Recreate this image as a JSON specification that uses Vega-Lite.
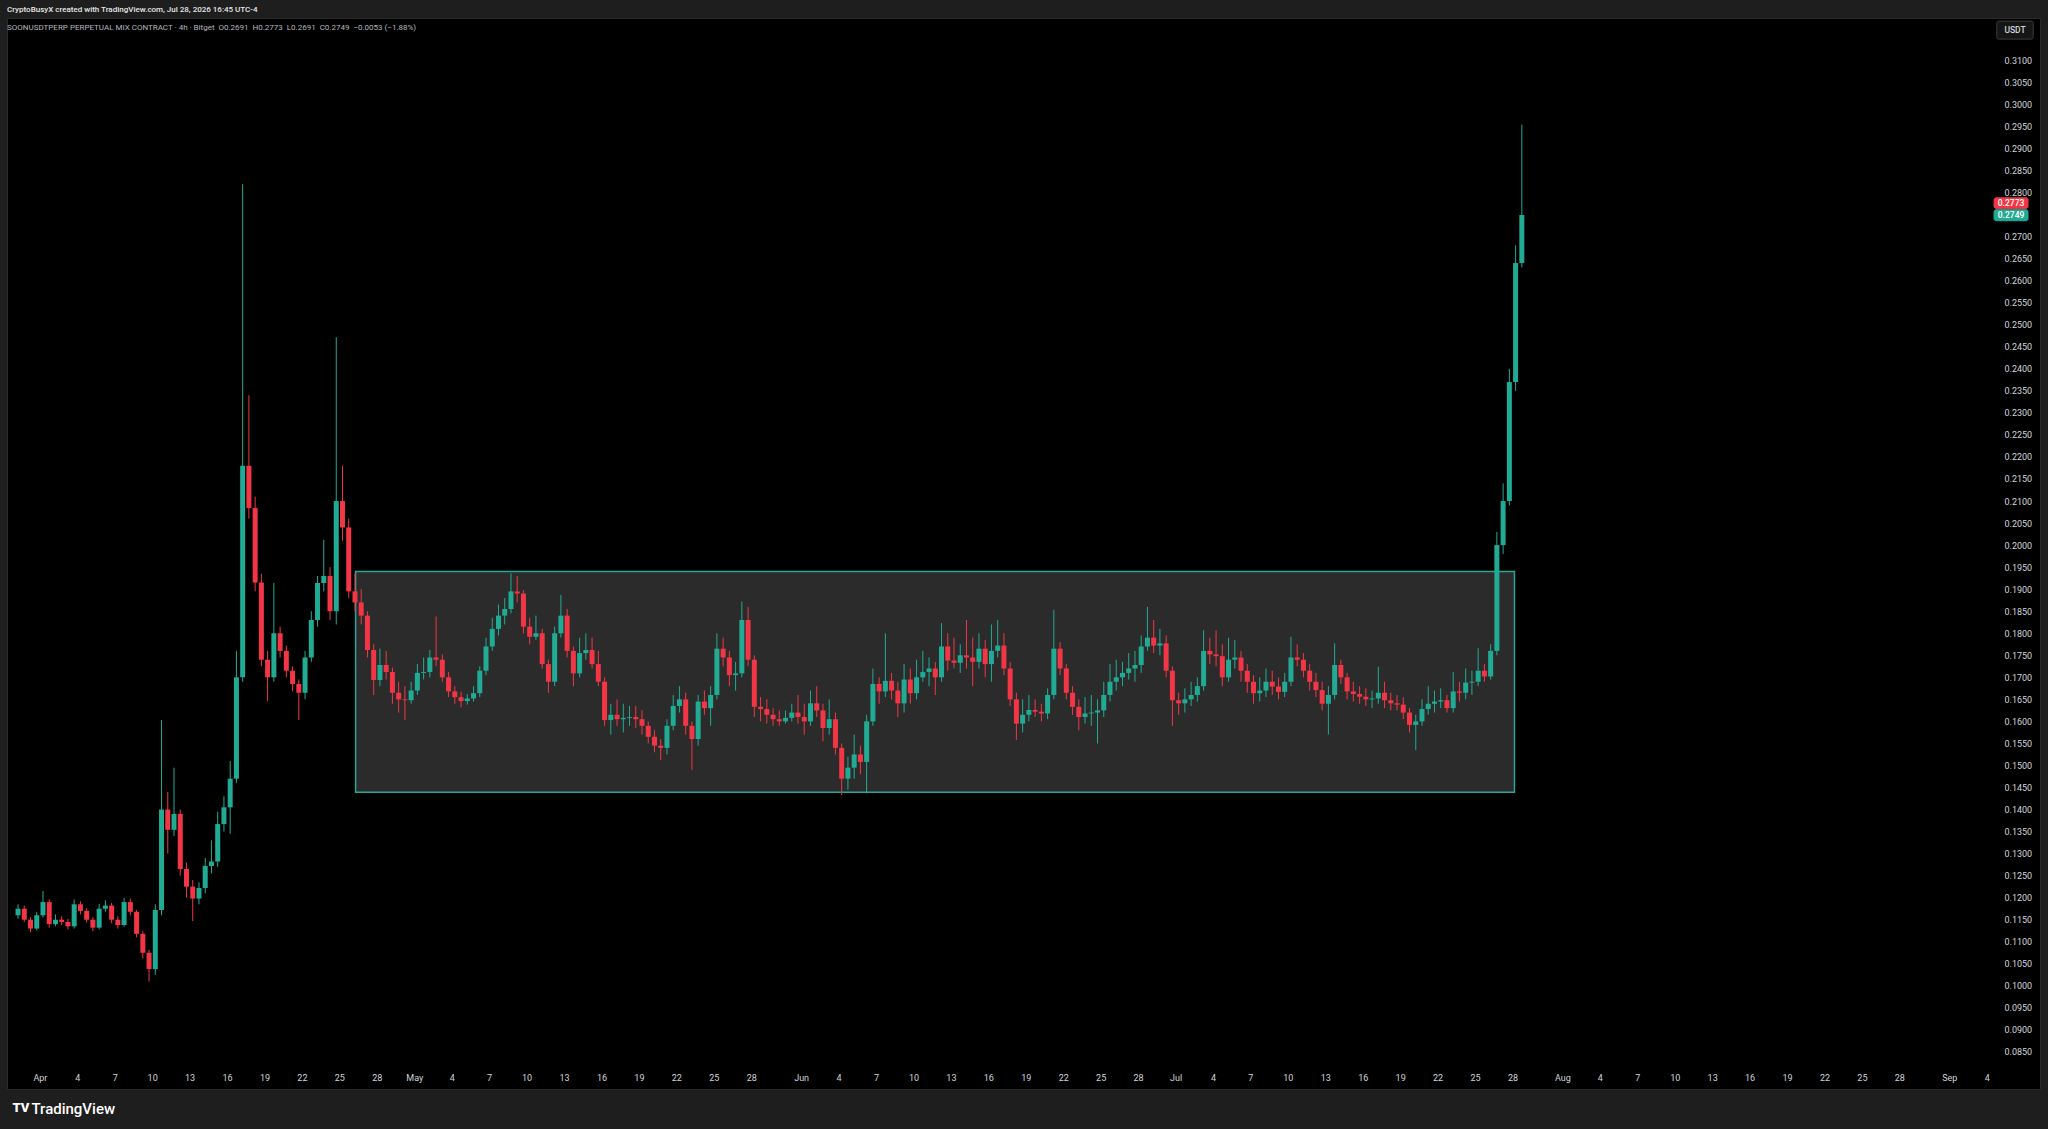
{
  "$schema": "https://vega.github.io/schema/vega-lite/v6.json",
  "width": 2033,
  "height": 1071,
  "autosize": {"type": "none"},
  "padding": {"left": 7, "top": 18, "right": 8, "bottom": 40},
  "background": "#1e1e1e",
  "view": {"fill": "#000000", "stroke": "#2a2a2a"},
  "config": {
    "font": "Roboto",
    "axis": {"grid": false, "domain": false, "ticks": false, "tickSize": 0, "labelFont": "Roboto", "labelFontSize": 9, "labelColor": "#d1d4dc", "labelOverlap": false, "zindex": 1}
  },
  "title": {
    "text": "CryptoBusyX created with TradingView.com, Jul 28, 2026 16:45 UTC-4",
    "subtitle": "\u00a0\u00a0\u00a0SOONUSDTPERP PERPETUAL MIX CONTRACT · 4h · Bitget\u00a0\u00a0O0.2691\u00a0\u00a0H0.2773\u00a0\u00a0L0.2691\u00a0\u00a0C0.2749\u00a0\u00a0−0.0053 (−1.88%)",
    "anchor": "start",
    "frame": "group",
    "offset": -14,
    "font": "Roboto",
    "fontSize": 8,
    "fontWeight": 500,
    "color": "#e6e6e6",
    "subtitleFont": "Roboto",
    "subtitleFontSize": 8,
    "subtitleColor": "#b2b5be",
    "subtitlePadding": 10,
    "zindex": 1
  },
  "datasets": {
    "range": [{"t0": "2026-04-26T07:12Z", "t1": "2026-07-28T03:50Z", "p0": 0.1439, "p1": 0.1940}],
    "badges": [
      {"t0": "2026-09-04T19:25Z", "t1": "2026-09-07T17:30Z", "tm": "2026-09-06T06:30Z", "p0": 0.3148, "p1": 0.3189, "pm": 0.31685, "label": "USDT", "fill": "#161616", "stroke": "#3a3a3a", "tc": "#d1d4dc"},
      {"t0": "2026-09-04T14:10Z", "t1": "2026-09-07T07:25Z", "tm": "2026-09-05T22:50Z", "p0": 0.2764, "p1": 0.2788, "pm": 0.2776, "label": "0.2773", "fill": "#f23645", "stroke": "#f23645", "tc": "#ffffff"},
      {"t0": "2026-09-04T14:10Z", "t1": "2026-09-07T07:25Z", "tm": "2026-09-05T22:50Z", "p0": 0.2736, "p1": 0.2761, "pm": 0.27485, "label": "0.2749", "fill": "#22ab94", "stroke": "#22ab94", "tc": "#ffffff"}
    ],
    "logo": [{"t": "2026-03-30T11:40Z", "p": 0.0723, "label": "TV"}],
    "candles": [
      {"t": "2026-03-30T06:00Z", "o": 0.1160, "h": 0.1185, "l": 0.1152, "c": 0.1175},
      {"t": "2026-03-30T18:00Z", "o": 0.1175, "h": 0.1182, "l": 0.1145, "c": 0.1150},
      {"t": "2026-03-31T06:00Z", "o": 0.1150, "h": 0.1156, "l": 0.1122, "c": 0.1130},
      {"t": "2026-03-31T18:00Z", "o": 0.1130, "h": 0.1168, "l": 0.1126, "c": 0.1160},
      {"t": "2026-04-01T06:00Z", "o": 0.1160, "h": 0.1215, "l": 0.1155, "c": 0.1190},
      {"t": "2026-04-01T18:00Z", "o": 0.1190, "h": 0.1196, "l": 0.1132, "c": 0.1140},
      {"t": "2026-04-02T06:00Z", "o": 0.1140, "h": 0.1162, "l": 0.1135, "c": 0.1150},
      {"t": "2026-04-02T18:00Z", "o": 0.1150, "h": 0.1158, "l": 0.1138, "c": 0.1145},
      {"t": "2026-04-03T06:00Z", "o": 0.1145, "h": 0.1152, "l": 0.1128, "c": 0.1135},
      {"t": "2026-04-03T18:00Z", "o": 0.1135, "h": 0.1196, "l": 0.1130, "c": 0.1185},
      {"t": "2026-04-04T06:00Z", "o": 0.1185, "h": 0.1192, "l": 0.1162, "c": 0.1170},
      {"t": "2026-04-04T18:00Z", "o": 0.1170, "h": 0.1176, "l": 0.1144, "c": 0.1150},
      {"t": "2026-04-05T06:00Z", "o": 0.1150, "h": 0.1156, "l": 0.1124, "c": 0.1132},
      {"t": "2026-04-05T18:00Z", "o": 0.1132, "h": 0.1186, "l": 0.1128, "c": 0.1175},
      {"t": "2026-04-06T06:00Z", "o": 0.1175, "h": 0.1194, "l": 0.1168, "c": 0.1182},
      {"t": "2026-04-06T18:00Z", "o": 0.1182, "h": 0.1188, "l": 0.1142, "c": 0.1150},
      {"t": "2026-04-07T06:00Z", "o": 0.1150, "h": 0.1158, "l": 0.1130, "c": 0.1138},
      {"t": "2026-04-07T18:00Z", "o": 0.1138, "h": 0.1200, "l": 0.1134, "c": 0.1190},
      {"t": "2026-04-08T06:00Z", "o": 0.1190, "h": 0.1198, "l": 0.1160, "c": 0.1168},
      {"t": "2026-04-08T18:00Z", "o": 0.1168, "h": 0.1172, "l": 0.1110, "c": 0.1118},
      {"t": "2026-04-09T06:00Z", "o": 0.1118, "h": 0.1124, "l": 0.1062, "c": 0.1075},
      {"t": "2026-04-09T18:00Z", "o": 0.1075, "h": 0.1082, "l": 0.1010, "c": 0.1038},
      {"t": "2026-04-10T06:00Z", "o": 0.1038, "h": 0.1185, "l": 0.1025, "c": 0.1172},
      {"t": "2026-04-10T18:00Z", "o": 0.1172, "h": 0.1603, "l": 0.1160, "c": 0.1400},
      {"t": "2026-04-11T06:00Z", "o": 0.1400, "h": 0.1440, "l": 0.1300, "c": 0.1354},
      {"t": "2026-04-11T18:00Z", "o": 0.1354, "h": 0.1495, "l": 0.1340, "c": 0.1390},
      {"t": "2026-04-12T06:00Z", "o": 0.1390, "h": 0.1400, "l": 0.1250, "c": 0.1265},
      {"t": "2026-04-12T18:00Z", "o": 0.1265, "h": 0.1280, "l": 0.1200, "c": 0.1225},
      {"t": "2026-04-13T06:00Z", "o": 0.1225, "h": 0.1240, "l": 0.1147, "c": 0.1198},
      {"t": "2026-04-13T18:00Z", "o": 0.1198, "h": 0.1235, "l": 0.1185, "c": 0.1222},
      {"t": "2026-04-14T06:00Z", "o": 0.1222, "h": 0.1290, "l": 0.1210, "c": 0.1272},
      {"t": "2026-04-14T18:00Z", "o": 0.1272, "h": 0.1330, "l": 0.1255, "c": 0.1282},
      {"t": "2026-04-15T06:00Z", "o": 0.1282, "h": 0.1395, "l": 0.1270, "c": 0.1367},
      {"t": "2026-04-15T18:00Z", "o": 0.1367, "h": 0.1430, "l": 0.1350, "c": 0.1405},
      {"t": "2026-04-16T06:00Z", "o": 0.1405, "h": 0.1510, "l": 0.1345, "c": 0.1470},
      {"t": "2026-04-16T18:00Z", "o": 0.1470, "h": 0.1760, "l": 0.1460, "c": 0.1700},
      {"t": "2026-04-17T06:00Z", "o": 0.1700, "h": 0.2819, "l": 0.1690, "c": 0.2180},
      {"t": "2026-04-17T18:00Z", "o": 0.2180, "h": 0.2340, "l": 0.2060, "c": 0.2084},
      {"t": "2026-04-18T06:00Z", "o": 0.2084, "h": 0.2110, "l": 0.1895, "c": 0.1915},
      {"t": "2026-04-18T18:00Z", "o": 0.1915, "h": 0.1935, "l": 0.1725, "c": 0.1740},
      {"t": "2026-04-19T06:00Z", "o": 0.1740, "h": 0.1760, "l": 0.1646, "c": 0.1700},
      {"t": "2026-04-19T18:00Z", "o": 0.1700, "h": 0.1914, "l": 0.1690, "c": 0.1800},
      {"t": "2026-04-20T06:00Z", "o": 0.1800, "h": 0.1815, "l": 0.1745, "c": 0.1760},
      {"t": "2026-04-20T18:00Z", "o": 0.1760, "h": 0.1772, "l": 0.1700, "c": 0.1715},
      {"t": "2026-04-21T06:00Z", "o": 0.1715, "h": 0.1725, "l": 0.1668, "c": 0.1685},
      {"t": "2026-04-21T18:00Z", "o": 0.1685, "h": 0.1695, "l": 0.1603, "c": 0.1665},
      {"t": "2026-04-22T06:00Z", "o": 0.1665, "h": 0.1760, "l": 0.1650, "c": 0.1745},
      {"t": "2026-04-22T18:00Z", "o": 0.1745, "h": 0.1850, "l": 0.1735, "c": 0.1830},
      {"t": "2026-04-23T06:00Z", "o": 0.1830, "h": 0.1930, "l": 0.1815, "c": 0.1914},
      {"t": "2026-04-23T18:00Z", "o": 0.1914, "h": 0.2012, "l": 0.1895, "c": 0.1930},
      {"t": "2026-04-24T06:00Z", "o": 0.1930, "h": 0.1950, "l": 0.1830, "c": 0.1850},
      {"t": "2026-04-24T18:00Z", "o": 0.1850, "h": 0.2472, "l": 0.1820, "c": 0.2100},
      {"t": "2026-04-25T06:00Z", "o": 0.2100, "h": 0.2180, "l": 0.2010, "c": 0.2040},
      {"t": "2026-04-25T18:00Z", "o": 0.2040, "h": 0.2060, "l": 0.1880, "c": 0.1895},
      {"t": "2026-04-26T06:00Z", "o": 0.1895, "h": 0.1935, "l": 0.1850, "c": 0.1870},
      {"t": "2026-04-26T18:00Z", "o": 0.1870, "h": 0.1900, "l": 0.1820, "c": 0.1840},
      {"t": "2026-04-27T06:00Z", "o": 0.1840, "h": 0.1850, "l": 0.1745, "c": 0.1762},
      {"t": "2026-04-27T18:00Z", "o": 0.1762, "h": 0.1775, "l": 0.1660, "c": 0.1694},
      {"t": "2026-04-28T06:00Z", "o": 0.1694, "h": 0.1765, "l": 0.1680, "c": 0.1728},
      {"t": "2026-04-28T18:00Z", "o": 0.1728, "h": 0.1760, "l": 0.1695, "c": 0.1712},
      {"t": "2026-04-29T06:00Z", "o": 0.1712, "h": 0.1722, "l": 0.1640, "c": 0.1665},
      {"t": "2026-04-29T18:00Z", "o": 0.1665, "h": 0.1690, "l": 0.1620, "c": 0.1650},
      {"t": "2026-04-30T06:00Z", "o": 0.1650, "h": 0.1680, "l": 0.1603, "c": 0.1648},
      {"t": "2026-04-30T18:00Z", "o": 0.1648, "h": 0.1690, "l": 0.1640, "c": 0.1670},
      {"t": "2026-05-01T06:00Z", "o": 0.1670, "h": 0.1730, "l": 0.1660, "c": 0.1710},
      {"t": "2026-05-01T18:00Z", "o": 0.1710, "h": 0.1745, "l": 0.1695, "c": 0.1712},
      {"t": "2026-05-02T06:00Z", "o": 0.1712, "h": 0.1762, "l": 0.1700, "c": 0.1745},
      {"t": "2026-05-02T18:00Z", "o": 0.1745, "h": 0.1838, "l": 0.1725, "c": 0.1740},
      {"t": "2026-05-03T06:00Z", "o": 0.1740, "h": 0.1752, "l": 0.1690, "c": 0.1700},
      {"t": "2026-05-03T18:00Z", "o": 0.1700, "h": 0.1712, "l": 0.1655, "c": 0.1668},
      {"t": "2026-05-04T06:00Z", "o": 0.1668, "h": 0.1680, "l": 0.1640, "c": 0.1655},
      {"t": "2026-05-04T18:00Z", "o": 0.1655, "h": 0.1668, "l": 0.1632, "c": 0.1646},
      {"t": "2026-05-05T06:00Z", "o": 0.1646, "h": 0.1662, "l": 0.1638, "c": 0.1652},
      {"t": "2026-05-05T18:00Z", "o": 0.1652, "h": 0.1680, "l": 0.1645, "c": 0.1664},
      {"t": "2026-05-06T06:00Z", "o": 0.1664, "h": 0.1725, "l": 0.1655, "c": 0.1715},
      {"t": "2026-05-06T18:00Z", "o": 0.1715, "h": 0.1790, "l": 0.1705, "c": 0.1770},
      {"t": "2026-05-07T06:00Z", "o": 0.1770, "h": 0.1835, "l": 0.1760, "c": 0.1810},
      {"t": "2026-05-07T18:00Z", "o": 0.1810, "h": 0.1865, "l": 0.1795, "c": 0.1840},
      {"t": "2026-05-08T06:00Z", "o": 0.1840, "h": 0.1880, "l": 0.1820, "c": 0.1855},
      {"t": "2026-05-08T18:00Z", "o": 0.1855, "h": 0.1936, "l": 0.1845, "c": 0.1895},
      {"t": "2026-05-09T06:00Z", "o": 0.1895, "h": 0.1930, "l": 0.1870, "c": 0.1890},
      {"t": "2026-05-09T18:00Z", "o": 0.1890, "h": 0.1898, "l": 0.1800, "c": 0.1815},
      {"t": "2026-05-10T06:00Z", "o": 0.1815, "h": 0.1835, "l": 0.1775, "c": 0.1792},
      {"t": "2026-05-10T18:00Z", "o": 0.1792, "h": 0.1840, "l": 0.1785, "c": 0.1800},
      {"t": "2026-05-11T06:00Z", "o": 0.1800, "h": 0.1810, "l": 0.1720, "c": 0.1730},
      {"t": "2026-05-11T18:00Z", "o": 0.1730, "h": 0.1740, "l": 0.1665, "c": 0.1690},
      {"t": "2026-05-12T06:00Z", "o": 0.1690, "h": 0.1815, "l": 0.1680, "c": 0.1800},
      {"t": "2026-05-12T18:00Z", "o": 0.1800, "h": 0.1887, "l": 0.1790, "c": 0.1840},
      {"t": "2026-05-13T06:00Z", "o": 0.1840, "h": 0.1855, "l": 0.1745, "c": 0.1760},
      {"t": "2026-05-13T18:00Z", "o": 0.1760, "h": 0.1770, "l": 0.1680, "c": 0.1709},
      {"t": "2026-05-14T06:00Z", "o": 0.1709, "h": 0.1790, "l": 0.1700, "c": 0.1755},
      {"t": "2026-05-14T18:00Z", "o": 0.1755, "h": 0.1800, "l": 0.1740, "c": 0.1762},
      {"t": "2026-05-15T06:00Z", "o": 0.1762, "h": 0.1790, "l": 0.1720, "c": 0.1730},
      {"t": "2026-05-15T18:00Z", "o": 0.1730, "h": 0.1760, "l": 0.1680, "c": 0.1690},
      {"t": "2026-05-16T06:00Z", "o": 0.1690, "h": 0.1700, "l": 0.1590, "c": 0.1603},
      {"t": "2026-05-16T18:00Z", "o": 0.1603, "h": 0.1640, "l": 0.1570, "c": 0.1615},
      {"t": "2026-05-17T06:00Z", "o": 0.1615, "h": 0.1650, "l": 0.1590, "c": 0.1605},
      {"t": "2026-05-17T18:00Z", "o": 0.1605, "h": 0.1640, "l": 0.1575, "c": 0.1608},
      {"t": "2026-05-18T06:00Z", "o": 0.1608, "h": 0.1635, "l": 0.1590, "c": 0.1610},
      {"t": "2026-05-18T18:00Z", "o": 0.1610, "h": 0.1635, "l": 0.1585, "c": 0.1605},
      {"t": "2026-05-19T06:00Z", "o": 0.1605, "h": 0.1625, "l": 0.1570, "c": 0.1590},
      {"t": "2026-05-19T18:00Z", "o": 0.1590, "h": 0.1600, "l": 0.1550, "c": 0.1565},
      {"t": "2026-05-20T06:00Z", "o": 0.1565, "h": 0.1580, "l": 0.1530, "c": 0.1545},
      {"t": "2026-05-20T18:00Z", "o": 0.1545, "h": 0.1560, "l": 0.1512, "c": 0.1540},
      {"t": "2026-05-21T06:00Z", "o": 0.1540, "h": 0.1605, "l": 0.1525, "c": 0.1590},
      {"t": "2026-05-21T18:00Z", "o": 0.1590, "h": 0.1660, "l": 0.1580, "c": 0.1635},
      {"t": "2026-05-22T06:00Z", "o": 0.1635, "h": 0.1680, "l": 0.1620, "c": 0.1650},
      {"t": "2026-05-22T18:00Z", "o": 0.1650, "h": 0.1665, "l": 0.1570, "c": 0.1590},
      {"t": "2026-05-23T06:00Z", "o": 0.1590, "h": 0.1600, "l": 0.1490, "c": 0.1560},
      {"t": "2026-05-23T18:00Z", "o": 0.1560, "h": 0.1660, "l": 0.1545, "c": 0.1645},
      {"t": "2026-05-24T06:00Z", "o": 0.1645, "h": 0.1670, "l": 0.1615, "c": 0.1630},
      {"t": "2026-05-24T18:00Z", "o": 0.1630, "h": 0.1680, "l": 0.1590, "c": 0.1660},
      {"t": "2026-05-25T06:00Z", "o": 0.1660, "h": 0.1800, "l": 0.1650, "c": 0.1765},
      {"t": "2026-05-25T18:00Z", "o": 0.1765, "h": 0.1790, "l": 0.1725, "c": 0.1745},
      {"t": "2026-05-26T06:00Z", "o": 0.1745, "h": 0.1760, "l": 0.1680, "c": 0.1705},
      {"t": "2026-05-26T18:00Z", "o": 0.1705, "h": 0.1735, "l": 0.1670, "c": 0.1709},
      {"t": "2026-05-27T06:00Z", "o": 0.1709, "h": 0.1872, "l": 0.1700, "c": 0.1830},
      {"t": "2026-05-27T18:00Z", "o": 0.1830, "h": 0.1860, "l": 0.1725, "c": 0.1740},
      {"t": "2026-05-28T06:00Z", "o": 0.1740, "h": 0.1750, "l": 0.1610, "c": 0.1633},
      {"t": "2026-05-28T18:00Z", "o": 0.1633, "h": 0.1655, "l": 0.1600, "c": 0.1628},
      {"t": "2026-05-29T06:00Z", "o": 0.1628, "h": 0.1650, "l": 0.1595, "c": 0.1615},
      {"t": "2026-05-29T18:00Z", "o": 0.1615, "h": 0.1630, "l": 0.1590, "c": 0.1605},
      {"t": "2026-05-30T06:00Z", "o": 0.1605, "h": 0.1625, "l": 0.1590, "c": 0.1600},
      {"t": "2026-05-30T18:00Z", "o": 0.1600, "h": 0.1625, "l": 0.1595, "c": 0.1608},
      {"t": "2026-05-31T06:00Z", "o": 0.1608, "h": 0.1640, "l": 0.1600, "c": 0.1620},
      {"t": "2026-05-31T18:00Z", "o": 0.1620, "h": 0.1660, "l": 0.1595, "c": 0.1610},
      {"t": "2026-06-01T06:00Z", "o": 0.1610, "h": 0.1640, "l": 0.1570, "c": 0.1600},
      {"t": "2026-06-01T18:00Z", "o": 0.1600, "h": 0.1670, "l": 0.1590, "c": 0.1641},
      {"t": "2026-06-02T06:00Z", "o": 0.1641, "h": 0.1680, "l": 0.1610, "c": 0.1625},
      {"t": "2026-06-02T18:00Z", "o": 0.1625, "h": 0.1640, "l": 0.1555, "c": 0.1585},
      {"t": "2026-06-03T06:00Z", "o": 0.1585, "h": 0.1650, "l": 0.1570, "c": 0.1605},
      {"t": "2026-06-03T18:00Z", "o": 0.1605, "h": 0.1620, "l": 0.1525, "c": 0.1540},
      {"t": "2026-06-04T06:00Z", "o": 0.1540, "h": 0.1550, "l": 0.1433, "c": 0.1470},
      {"t": "2026-06-04T18:00Z", "o": 0.1470, "h": 0.1520, "l": 0.1445, "c": 0.1495},
      {"t": "2026-06-05T06:00Z", "o": 0.1495, "h": 0.1570, "l": 0.1470, "c": 0.1525},
      {"t": "2026-06-05T18:00Z", "o": 0.1525, "h": 0.1545, "l": 0.1480, "c": 0.1508},
      {"t": "2026-06-06T06:00Z", "o": 0.1508, "h": 0.1615, "l": 0.1437, "c": 0.1600},
      {"t": "2026-06-06T18:00Z", "o": 0.1600, "h": 0.1720, "l": 0.1590, "c": 0.1685},
      {"t": "2026-06-07T06:00Z", "o": 0.1685, "h": 0.1700, "l": 0.1640, "c": 0.1668},
      {"t": "2026-06-07T18:00Z", "o": 0.1668, "h": 0.1800, "l": 0.1655, "c": 0.1692},
      {"t": "2026-06-08T06:00Z", "o": 0.1692, "h": 0.1710, "l": 0.1650, "c": 0.1670},
      {"t": "2026-06-08T18:00Z", "o": 0.1670, "h": 0.1690, "l": 0.1610, "c": 0.1641},
      {"t": "2026-06-09T06:00Z", "o": 0.1641, "h": 0.1730, "l": 0.1620, "c": 0.1695},
      {"t": "2026-06-09T18:00Z", "o": 0.1695, "h": 0.1720, "l": 0.1640, "c": 0.1664},
      {"t": "2026-06-10T06:00Z", "o": 0.1664, "h": 0.1740, "l": 0.1650, "c": 0.1700},
      {"t": "2026-06-10T18:00Z", "o": 0.1700, "h": 0.1760, "l": 0.1690, "c": 0.1712},
      {"t": "2026-06-11T06:00Z", "o": 0.1712, "h": 0.1745, "l": 0.1680, "c": 0.1720},
      {"t": "2026-06-11T18:00Z", "o": 0.1720, "h": 0.1735, "l": 0.1660, "c": 0.1700},
      {"t": "2026-06-12T06:00Z", "o": 0.1700, "h": 0.1823, "l": 0.1690, "c": 0.1770},
      {"t": "2026-06-12T18:00Z", "o": 0.1770, "h": 0.1800, "l": 0.1715, "c": 0.1738},
      {"t": "2026-06-13T06:00Z", "o": 0.1738, "h": 0.1790, "l": 0.1720, "c": 0.1733},
      {"t": "2026-06-13T18:00Z", "o": 0.1733, "h": 0.1775, "l": 0.1710, "c": 0.1750},
      {"t": "2026-06-14T06:00Z", "o": 0.1750, "h": 0.1830, "l": 0.1720, "c": 0.1745},
      {"t": "2026-06-14T18:00Z", "o": 0.1745, "h": 0.1790, "l": 0.1680, "c": 0.1735},
      {"t": "2026-06-15T06:00Z", "o": 0.1735, "h": 0.1800, "l": 0.1720, "c": 0.1765},
      {"t": "2026-06-15T18:00Z", "o": 0.1765, "h": 0.1785, "l": 0.1700, "c": 0.1730},
      {"t": "2026-06-16T06:00Z", "o": 0.1730, "h": 0.1820, "l": 0.1690, "c": 0.1760},
      {"t": "2026-06-16T18:00Z", "o": 0.1760, "h": 0.1830, "l": 0.1745, "c": 0.1772},
      {"t": "2026-06-17T06:00Z", "o": 0.1772, "h": 0.1800, "l": 0.1705, "c": 0.1720},
      {"t": "2026-06-17T18:00Z", "o": 0.1720, "h": 0.1735, "l": 0.1635, "c": 0.1650},
      {"t": "2026-06-18T06:00Z", "o": 0.1650, "h": 0.1665, "l": 0.1558, "c": 0.1595},
      {"t": "2026-06-18T18:00Z", "o": 0.1595, "h": 0.1650, "l": 0.1575, "c": 0.1615},
      {"t": "2026-06-19T06:00Z", "o": 0.1615, "h": 0.1660, "l": 0.1600, "c": 0.1626},
      {"t": "2026-06-19T18:00Z", "o": 0.1626, "h": 0.1650, "l": 0.1610, "c": 0.1622},
      {"t": "2026-06-20T06:00Z", "o": 0.1622, "h": 0.1640, "l": 0.1600, "c": 0.1618},
      {"t": "2026-06-20T18:00Z", "o": 0.1618, "h": 0.1675, "l": 0.1605, "c": 0.1660},
      {"t": "2026-06-21T06:00Z", "o": 0.1660, "h": 0.1853, "l": 0.1650, "c": 0.1765},
      {"t": "2026-06-21T18:00Z", "o": 0.1765, "h": 0.1780, "l": 0.1705, "c": 0.1720},
      {"t": "2026-06-22T06:00Z", "o": 0.1720, "h": 0.1730, "l": 0.1650, "c": 0.1665},
      {"t": "2026-06-22T18:00Z", "o": 0.1665, "h": 0.1680, "l": 0.1615, "c": 0.1633},
      {"t": "2026-06-23T06:00Z", "o": 0.1633, "h": 0.1650, "l": 0.1580, "c": 0.1610},
      {"t": "2026-06-23T18:00Z", "o": 0.1610, "h": 0.1655, "l": 0.1595, "c": 0.1618},
      {"t": "2026-06-24T06:00Z", "o": 0.1618, "h": 0.1660, "l": 0.1590, "c": 0.1620},
      {"t": "2026-06-24T18:00Z", "o": 0.1620, "h": 0.1650, "l": 0.1550, "c": 0.1625},
      {"t": "2026-06-25T06:00Z", "o": 0.1625, "h": 0.1690, "l": 0.1610, "c": 0.1660},
      {"t": "2026-06-25T18:00Z", "o": 0.1660, "h": 0.1730, "l": 0.1645, "c": 0.1690},
      {"t": "2026-06-26T06:00Z", "o": 0.1690, "h": 0.1740, "l": 0.1670, "c": 0.1700},
      {"t": "2026-06-26T18:00Z", "o": 0.1700, "h": 0.1735, "l": 0.1680, "c": 0.1710},
      {"t": "2026-06-27T06:00Z", "o": 0.1710, "h": 0.1755, "l": 0.1695, "c": 0.1720},
      {"t": "2026-06-27T18:00Z", "o": 0.1720, "h": 0.1760, "l": 0.1690, "c": 0.1728},
      {"t": "2026-06-28T06:00Z", "o": 0.1728, "h": 0.1795, "l": 0.1710, "c": 0.1770},
      {"t": "2026-06-28T18:00Z", "o": 0.1770, "h": 0.1860, "l": 0.1760, "c": 0.1790},
      {"t": "2026-06-29T06:00Z", "o": 0.1790, "h": 0.1830, "l": 0.1755, "c": 0.1772},
      {"t": "2026-06-29T18:00Z", "o": 0.1772, "h": 0.1810, "l": 0.1750, "c": 0.1777},
      {"t": "2026-06-30T06:00Z", "o": 0.1777, "h": 0.1795, "l": 0.1700, "c": 0.1715},
      {"t": "2026-06-30T18:00Z", "o": 0.1715, "h": 0.1725, "l": 0.1590, "c": 0.1648},
      {"t": "2026-07-01T06:00Z", "o": 0.1648, "h": 0.1665, "l": 0.1615, "c": 0.1641},
      {"t": "2026-07-01T18:00Z", "o": 0.1641, "h": 0.1675, "l": 0.1620, "c": 0.1650},
      {"t": "2026-07-02T06:00Z", "o": 0.1650, "h": 0.1690, "l": 0.1635, "c": 0.1660},
      {"t": "2026-07-02T18:00Z", "o": 0.1660, "h": 0.1700, "l": 0.1645, "c": 0.1680},
      {"t": "2026-07-03T06:00Z", "o": 0.1680, "h": 0.1807, "l": 0.1670, "c": 0.1760},
      {"t": "2026-07-03T18:00Z", "o": 0.1760, "h": 0.1790, "l": 0.1730, "c": 0.1752},
      {"t": "2026-07-04T06:00Z", "o": 0.1752, "h": 0.1807, "l": 0.1725, "c": 0.1748},
      {"t": "2026-07-04T18:00Z", "o": 0.1748, "h": 0.1775, "l": 0.1680, "c": 0.1700},
      {"t": "2026-07-05T06:00Z", "o": 0.1700, "h": 0.1790, "l": 0.1690, "c": 0.1740},
      {"t": "2026-07-05T18:00Z", "o": 0.1740, "h": 0.1785, "l": 0.1720, "c": 0.1745},
      {"t": "2026-07-06T06:00Z", "o": 0.1745, "h": 0.1760, "l": 0.1690, "c": 0.1715},
      {"t": "2026-07-06T18:00Z", "o": 0.1715, "h": 0.1730, "l": 0.1665, "c": 0.1690},
      {"t": "2026-07-07T06:00Z", "o": 0.1690, "h": 0.1705, "l": 0.1640, "c": 0.1664},
      {"t": "2026-07-07T18:00Z", "o": 0.1664, "h": 0.1700, "l": 0.1645, "c": 0.1670},
      {"t": "2026-07-08T06:00Z", "o": 0.1670, "h": 0.1720, "l": 0.1655, "c": 0.1690},
      {"t": "2026-07-08T18:00Z", "o": 0.1690, "h": 0.1715, "l": 0.1660, "c": 0.1679},
      {"t": "2026-07-09T06:00Z", "o": 0.1679, "h": 0.1700, "l": 0.1650, "c": 0.1667},
      {"t": "2026-07-09T18:00Z", "o": 0.1667, "h": 0.1710, "l": 0.1655, "c": 0.1690},
      {"t": "2026-07-10T06:00Z", "o": 0.1690, "h": 0.1792, "l": 0.1680, "c": 0.1745},
      {"t": "2026-07-10T18:00Z", "o": 0.1745, "h": 0.1775, "l": 0.1725, "c": 0.1740},
      {"t": "2026-07-11T06:00Z", "o": 0.1740, "h": 0.1755, "l": 0.1700, "c": 0.1715},
      {"t": "2026-07-11T18:00Z", "o": 0.1715, "h": 0.1730, "l": 0.1670, "c": 0.1690},
      {"t": "2026-07-12T06:00Z", "o": 0.1690, "h": 0.1710, "l": 0.1655, "c": 0.1671},
      {"t": "2026-07-12T18:00Z", "o": 0.1671, "h": 0.1690, "l": 0.1625, "c": 0.1640},
      {"t": "2026-07-13T06:00Z", "o": 0.1640, "h": 0.1680, "l": 0.1570, "c": 0.1660},
      {"t": "2026-07-13T18:00Z", "o": 0.1660, "h": 0.1777, "l": 0.1650, "c": 0.1728},
      {"t": "2026-07-14T06:00Z", "o": 0.1728, "h": 0.1740, "l": 0.1685, "c": 0.1700},
      {"t": "2026-07-14T18:00Z", "o": 0.1700, "h": 0.1710, "l": 0.1650, "c": 0.1668},
      {"t": "2026-07-15T06:00Z", "o": 0.1668, "h": 0.1690, "l": 0.1645, "c": 0.1662},
      {"t": "2026-07-15T18:00Z", "o": 0.1662, "h": 0.1680, "l": 0.1640, "c": 0.1656},
      {"t": "2026-07-16T06:00Z", "o": 0.1656, "h": 0.1675, "l": 0.1635, "c": 0.1650},
      {"t": "2026-07-16T18:00Z", "o": 0.1650, "h": 0.1670, "l": 0.1630, "c": 0.1652},
      {"t": "2026-07-17T06:00Z", "o": 0.1652, "h": 0.1724, "l": 0.1640, "c": 0.1665},
      {"t": "2026-07-17T18:00Z", "o": 0.1665, "h": 0.1690, "l": 0.1630, "c": 0.1648},
      {"t": "2026-07-18T06:00Z", "o": 0.1648, "h": 0.1665, "l": 0.1625, "c": 0.1641},
      {"t": "2026-07-18T18:00Z", "o": 0.1641, "h": 0.1660, "l": 0.1625, "c": 0.1638},
      {"t": "2026-07-19T06:00Z", "o": 0.1638, "h": 0.1655, "l": 0.1605, "c": 0.1620},
      {"t": "2026-07-19T18:00Z", "o": 0.1620, "h": 0.1630, "l": 0.1575, "c": 0.1592},
      {"t": "2026-07-20T06:00Z", "o": 0.1592, "h": 0.1615, "l": 0.1535, "c": 0.1600},
      {"t": "2026-07-20T18:00Z", "o": 0.1600, "h": 0.1650, "l": 0.1590, "c": 0.1628},
      {"t": "2026-07-21T06:00Z", "o": 0.1628, "h": 0.1680, "l": 0.1615, "c": 0.1640},
      {"t": "2026-07-21T18:00Z", "o": 0.1640, "h": 0.1670, "l": 0.1620, "c": 0.1645},
      {"t": "2026-07-22T06:00Z", "o": 0.1645, "h": 0.1675, "l": 0.1630, "c": 0.1648},
      {"t": "2026-07-22T18:00Z", "o": 0.1648, "h": 0.1660, "l": 0.1620, "c": 0.1630},
      {"t": "2026-07-23T06:00Z", "o": 0.1630, "h": 0.1712, "l": 0.1620, "c": 0.1668},
      {"t": "2026-07-23T18:00Z", "o": 0.1668, "h": 0.1690, "l": 0.1645, "c": 0.1665},
      {"t": "2026-07-24T06:00Z", "o": 0.1665, "h": 0.1720, "l": 0.1650, "c": 0.1688},
      {"t": "2026-07-24T18:00Z", "o": 0.1688, "h": 0.1715, "l": 0.1660, "c": 0.1690},
      {"t": "2026-07-25T06:00Z", "o": 0.1690, "h": 0.1766, "l": 0.1680, "c": 0.1715},
      {"t": "2026-07-25T18:00Z", "o": 0.1715, "h": 0.1730, "l": 0.1690, "c": 0.1702},
      {"t": "2026-07-26T06:00Z", "o": 0.1702, "h": 0.1775, "l": 0.1695, "c": 0.1760},
      {"t": "2026-07-26T18:00Z", "o": 0.1760, "h": 0.2030, "l": 0.1750, "c": 0.2000},
      {"t": "2026-07-27T06:00Z", "o": 0.2000, "h": 0.2140, "l": 0.1980, "c": 0.2100},
      {"t": "2026-07-27T18:00Z", "o": 0.2100, "h": 0.2400, "l": 0.2090, "c": 0.2370},
      {"t": "2026-07-28T06:00Z", "o": 0.2370, "h": 0.2680, "l": 0.2350, "c": 0.2640},
      {"t": "2026-07-28T18:00Z", "o": 0.2640, "h": 0.2954, "l": 0.2630, "c": 0.2749}
    ]
  },
  "layer": [
    {
      "data": {"name": "range"},
      "mark": {"type": "rect", "fill": "#2b2b2b", "stroke": "#26a69a", "strokeWidth": 1.5},
      "encoding": {
        "x": {
          "field": "t0", "type": "temporal", "title": "TradingView",
          "scale": {"type": "utc", "nice": false, "domain": [{"year": 2026, "month": 3, "date": 29, "hours": 18, "minutes": 25, "utc": true}, {"year": 2026, "month": 9, "date": 7, "hours": 20, "minutes": 53, "utc": true}]},
          "axis": {
            "orient": "bottom",
            "tickCount": 1000,
            "values": [
              {"year": 2026, "month": 4, "date": 1, "utc": true}, {"year": 2026, "month": 4, "date": 4, "utc": true}, {"year": 2026, "month": 4, "date": 7, "utc": true}, {"year": 2026, "month": 4, "date": 10, "utc": true}, {"year": 2026, "month": 4, "date": 13, "utc": true}, {"year": 2026, "month": 4, "date": 16, "utc": true}, {"year": 2026, "month": 4, "date": 19, "utc": true}, {"year": 2026, "month": 4, "date": 22, "utc": true}, {"year": 2026, "month": 4, "date": 25, "utc": true}, {"year": 2026, "month": 4, "date": 28, "utc": true},
              {"year": 2026, "month": 5, "date": 1, "utc": true}, {"year": 2026, "month": 5, "date": 4, "utc": true}, {"year": 2026, "month": 5, "date": 7, "utc": true}, {"year": 2026, "month": 5, "date": 10, "utc": true}, {"year": 2026, "month": 5, "date": 13, "utc": true}, {"year": 2026, "month": 5, "date": 16, "utc": true}, {"year": 2026, "month": 5, "date": 19, "utc": true}, {"year": 2026, "month": 5, "date": 22, "utc": true}, {"year": 2026, "month": 5, "date": 25, "utc": true}, {"year": 2026, "month": 5, "date": 28, "utc": true},
              {"year": 2026, "month": 6, "date": 1, "utc": true}, {"year": 2026, "month": 6, "date": 4, "utc": true}, {"year": 2026, "month": 6, "date": 7, "utc": true}, {"year": 2026, "month": 6, "date": 10, "utc": true}, {"year": 2026, "month": 6, "date": 13, "utc": true}, {"year": 2026, "month": 6, "date": 16, "utc": true}, {"year": 2026, "month": 6, "date": 19, "utc": true}, {"year": 2026, "month": 6, "date": 22, "utc": true}, {"year": 2026, "month": 6, "date": 25, "utc": true}, {"year": 2026, "month": 6, "date": 28, "utc": true},
              {"year": 2026, "month": 7, "date": 1, "utc": true}, {"year": 2026, "month": 7, "date": 4, "utc": true}, {"year": 2026, "month": 7, "date": 7, "utc": true}, {"year": 2026, "month": 7, "date": 10, "utc": true}, {"year": 2026, "month": 7, "date": 13, "utc": true}, {"year": 2026, "month": 7, "date": 16, "utc": true}, {"year": 2026, "month": 7, "date": 19, "utc": true}, {"year": 2026, "month": 7, "date": 22, "utc": true}, {"year": 2026, "month": 7, "date": 25, "utc": true}, {"year": 2026, "month": 7, "date": 28, "utc": true},
              {"year": 2026, "month": 8, "date": 1, "utc": true}, {"year": 2026, "month": 8, "date": 4, "utc": true}, {"year": 2026, "month": 8, "date": 7, "utc": true}, {"year": 2026, "month": 8, "date": 10, "utc": true}, {"year": 2026, "month": 8, "date": 13, "utc": true}, {"year": 2026, "month": 8, "date": 16, "utc": true}, {"year": 2026, "month": 8, "date": 19, "utc": true}, {"year": 2026, "month": 8, "date": 22, "utc": true}, {"year": 2026, "month": 8, "date": 25, "utc": true}, {"year": 2026, "month": 8, "date": 28, "utc": true},
              {"year": 2026, "month": 9, "date": 1, "utc": true}, {"year": 2026, "month": 9, "date": 4, "utc": true}
            ],
            "labelExpr": "utcFormat(datum.value, '%d') == '01' ? utcFormat(datum.value, '%b') : utcFormat(datum.value, '%-d')",
            "labelBaseline": "middle",
            "labelPadding": -12,
            "labelFlush": false,
            "labelOverlap": false,
            "titleX": 24,
            "titleY": 19,
            "titleAlign": "left",
            "titleBaseline": "middle",
            "titleFont": "Roboto",
            "titleFontSize": 15,
            "titleFontWeight": 500,
            "titleColor": "#ffffff"
          }
        },
        "x2": {"field": "t1"},
        "y": {
          "field": "p0", "type": "quantitative", "title": null,
          "scale": {"domain": [0.07659, 0.3196], "nice": false, "zero": false},
          "axis": {
            "orient": "right",
            "tickCount": 1000,
            "values": [0.085, 0.09, 0.095, 0.1, 0.105, 0.11, 0.115, 0.12, 0.125, 0.13, 0.135, 0.14, 0.145, 0.15, 0.155, 0.16, 0.165, 0.17, 0.175, 0.18, 0.185, 0.19, 0.195, 0.2, 0.205, 0.21, 0.215, 0.22, 0.225, 0.23, 0.235, 0.24, 0.245, 0.25, 0.255, 0.26, 0.265, 0.27, 0.28, 0.285, 0.29, 0.295, 0.3, 0.305, 0.31],
            "format": ".4f",
            "labelAlign": "left",
            "labelPadding": -36,
            "labelFlush": false,
            "labelOverlap": false
          }
        },
        "y2": {"field": "p1"}
      }
    },
    {
      "mark": {"type": "rule", "stroke": "#22ab94", "strokeDash": [1, 2], "strokeWidth": 1, "opacity": 0.85},
      "encoding": {
        "y": {"datum": 0.2749, "type": "quantitative", "title": null}
      }
    },
    {
      "data": {"name": "candles"},
      "mark": {"type": "rule", "strokeWidth": 1},
      "encoding": {
        "x": {"field": "t", "type": "temporal", "title": "TradingView"},
        "y": {"field": "l", "type": "quantitative", "title": null},
        "y2": {"field": "h"},
        "color": {"condition": {"test": "datum.c >= datum.o", "value": "#22ab94"}, "value": "#f23645"}
      }
    },
    {
      "data": {"name": "candles"},
      "mark": {"type": "bar", "width": 5.0},
      "encoding": {
        "x": {"field": "t", "type": "temporal", "title": "TradingView"},
        "y": {"field": "o", "type": "quantitative", "title": null},
        "y2": {"field": "c"},
        "color": {"condition": {"test": "datum.c >= datum.o", "value": "#22ab94"}, "value": "#f23645"}
      }
    },
    {
      "data": {"name": "badges"},
      "mark": {"type": "rect", "cornerRadius": 2, "strokeWidth": 1},
      "encoding": {
        "x": {"field": "t0", "type": "temporal", "title": "TradingView"},
        "x2": {"field": "t1"},
        "y": {"field": "p0", "type": "quantitative", "title": null},
        "y2": {"field": "p1"},
        "color": {"field": "fill", "type": "nominal", "scale": null},
        "stroke": {"field": "stroke", "type": "nominal", "scale": null}
      }
    },
    {
      "data": {"name": "badges"},
      "mark": {"type": "text", "font": "Roboto", "fontSize": 8.5, "fontWeight": 500, "baseline": "middle", "align": "center"},
      "encoding": {
        "x": {"field": "tm", "type": "temporal", "title": "TradingView"},
        "y": {"field": "pm", "type": "quantitative", "title": null},
        "text": {"field": "label"},
        "color": {"field": "tc", "type": "nominal", "scale": null}
      }
    },
    {
      "data": {"name": "logo"},
      "mark": {"type": "text", "font": "Roboto", "fontSize": 13, "fontWeight": 900, "baseline": "middle", "align": "center", "color": "#ffffff"},
      "encoding": {
        "x": {"field": "t", "type": "temporal", "title": "TradingView"},
        "y": {"field": "p", "type": "quantitative", "title": null},
        "text": {"field": "label"}
      }
    }
  ]
}
